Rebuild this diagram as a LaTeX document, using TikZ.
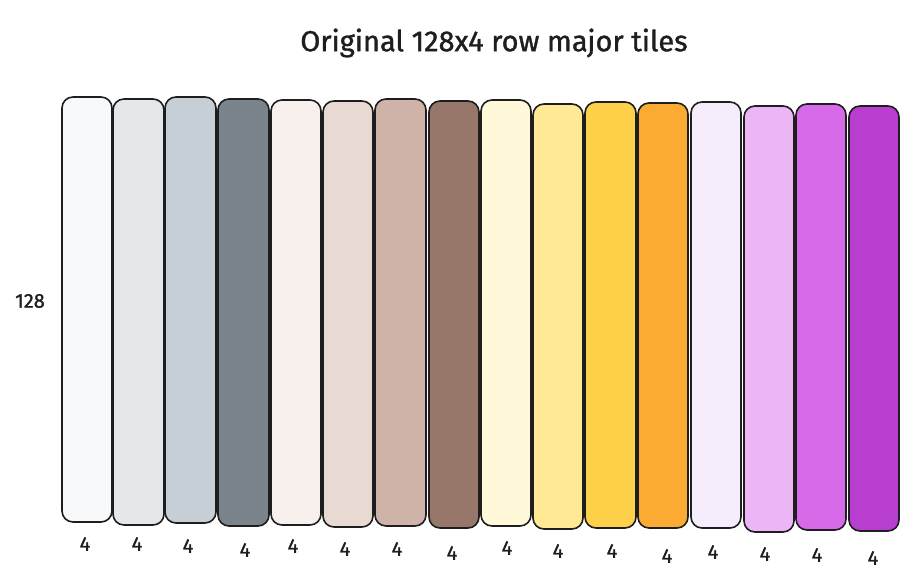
\documentclass[tikz,border=0pt]{standalone}
\usepackage{fontspec}
\setmainfont{Fira Sans}
\newfontfamily\handfont[FakeBold=1.2]{Fira Sans}
\definecolor{ink}{HTML}{1E1E1E}
\definecolor{c1}{HTML}{F8F9FA}
\definecolor{c2}{HTML}{E4E8EB}
\definecolor{c3}{HTML}{C7CFD6}
\definecolor{c4}{HTML}{7B848B}
\definecolor{c5}{HTML}{F8F0ED}
\definecolor{c6}{HTML}{E8D9D2}
\definecolor{c7}{HTML}{CFB3A9}
\definecolor{c8}{HTML}{98776B}
\definecolor{c9}{HTML}{FFF8D9}
\definecolor{c10}{HTML}{FFE994}
\definecolor{c11}{HTML}{FFD04A}
\definecolor{c12}{HTML}{FBAB32}
\definecolor{c13}{HTML}{F5EDFB}
\definecolor{c14}{HTML}{ECB6F6}
\definecolor{c15}{HTML}{D66AE8}
\definecolor{c16}{HTML}{B83ECF}
\tikzset{
  tile/.style={draw=ink, line width=1.6pt, rounded corners=11pt},
  lbl/.style={text=ink, font=\handfont\fontsize{20}{22}\selectfont, inner sep=0pt},
  ttl/.style={text=ink, font=\handfont\fontsize{29}{32}\selectfont, inner sep=0pt}
}
\begin{document}
\begin{tikzpicture}[x=1pt,y=-1pt]
\useasboundingbox (0,0) rectangle (920,585);
\node[ttl] (title) at (494,43) {Original 128x4 row major tiles};
\node[lbl] (rows) at (30,301) {128};
\foreach \i/\xa/\ya/\xb/\yb/\lx/\ly in {
  1/62/97/112/522/85/544,
  2/113/99/164/525/137/544,
  3/165/97/216/523/188/546,
  4/218/99/269/526/245/550,
  5/271/100/321/525/293/546,
  6/323/101/373/527/345/549,
  7/375/99/426/526/397/549,
  8/429/101/479/528/452/553,
  9/481/100/531/526/507/548,
  10/533/104/583/529/558/551,
  11/585/102/636/528/612/551,
  12/638/103/688/528/667/556,
  13/691/102/741/528/713/552,
  14/744/106/794/532/765/554,
  15/796/104/846/530/817/555,
  16/849/106/899/531/873/558}{
  \draw[tile, fill=c\i] (\xa,\ya) rectangle (\xb,\yb);
  \node[lbl] (w\i) at (\lx,\ly) {4};
}
\end{tikzpicture}
\end{document}
